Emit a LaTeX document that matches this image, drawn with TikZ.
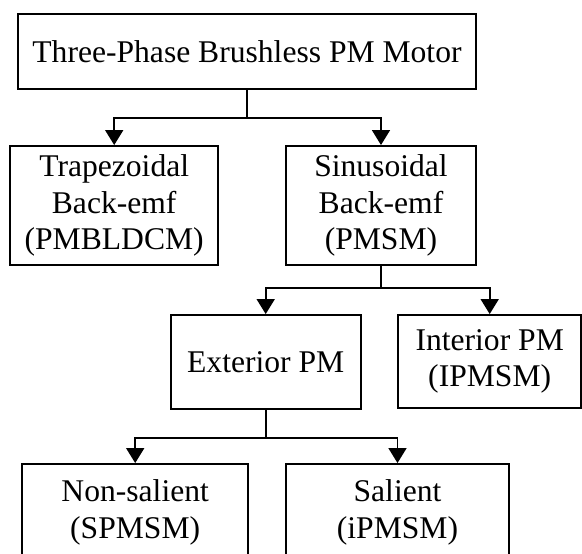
\documentclass[tikz,border=0pt]{standalone}
\usepackage{fontspec}
\setmainfont{Liberation Serif}
\usetikzlibrary{arrows.meta}
\begin{document}
\begin{tikzpicture}[x=1pt,y=-1pt,
  box/.style={draw, line width=1.9pt, align=center, inner sep=0pt,
    font=\fontsize{31.6}{36.6}\selectfont},
  link/.style={line width=1.7pt},
  arr/.style={link, -{Triangle[width=18pt,length=15pt]}}]
\useasboundingbox (0,0) rectangle (582,554);

% classification boxes
\node[box, minimum width=458.2pt, minimum height=75.3pt] (top) at (247,51.7)
  {Three-Phase Brushless PM Motor};
\node[box, minimum width=207.6pt, minimum height=119pt] (trap) at (114.2,205.5)
  {Trapezoidal\\Back-emf\\(PMBLDCM)};
\node[box, minimum width=190pt, minimum height=119pt] (sin) at (381,205.5)
  {Sinusoidal\\Back-emf\\(PMSM)};
\node[box, minimum width=190pt, minimum height=94pt] (ext) at (265.7,362)
  {Exterior PM};
\node[box, minimum width=182.7pt, minimum height=93pt] (int) at (489.7,361.5)
  {Interior PM\\(IPMSM)};
\node[box, minimum width=226pt, minimum height=96.6pt] (nons) at (135.2,512.3)
  {Non-salient\\(SPMSM)};
\node[box, minimum width=223.5pt, minimum height=96.6pt] (sal) at (397.5,512.3)
  {Salient\\(iPMSM)};

% branching connectors
\draw[arr] (top.south) -- ++(0,27.4) coordinate (j1) -| (trap.north);
\draw[arr] (j1) -| (sin.north);
\draw[arr] (sin.south) -- ++(0,22.3) coordinate (j2) -| (ext.north);
\draw[arr] (j2) -| (int.north);
\draw[arr] (ext.south) -- ++(0,27.7) coordinate (j3) -| (nons.north);
\draw[arr] (j3) -| (sal.north);
\end{tikzpicture}
\end{document}
